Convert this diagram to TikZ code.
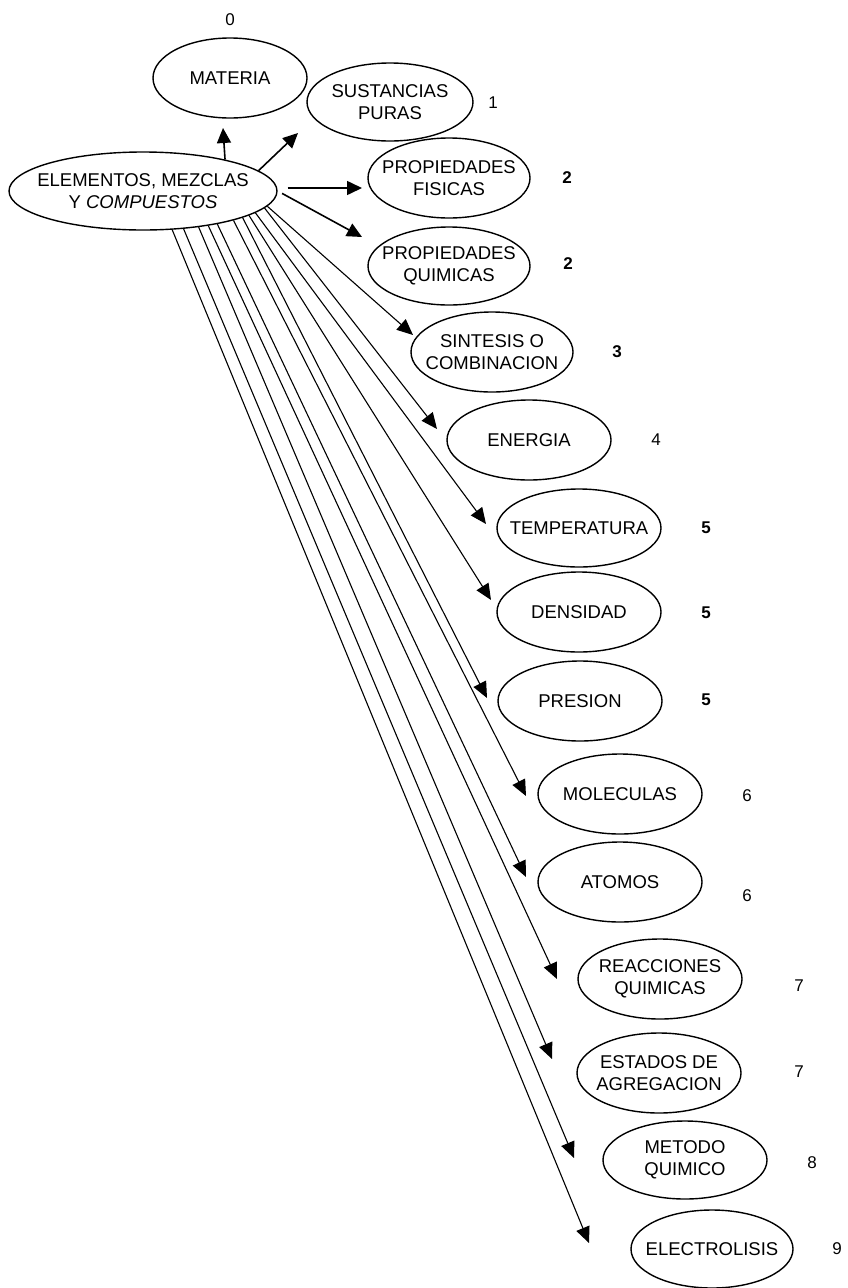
\documentclass[tikz,border=0pt]{standalone}
\usepackage{fontspec}
\setmainfont{Liberation Sans}
\usetikzlibrary{arrows.meta,shapes.geometric}
\begin{document}
\begin{tikzpicture}[x=1pt,y=-1pt,
  concept/.style={ellipse, draw, line width=1.4pt,
    inner xsep=-150pt, inner ysep=-40pt,
    minimum width=164pt, minimum height=80pt,
    align=center, font=\fontsize{18.5}{21.5}\selectfont},
  level/.style={font=\fontsize{17}{20}\selectfont},
  boldlevel/.style={font=\fontsize{17}{20}\selectfont\bfseries},
  link/.style={line width=1.1pt, -{Triangle[length=16pt,width=14pt]}},
  heavylink/.style={line width=1.6pt, -{Triangle[length=15pt,width=14pt]}},
]
\useasboundingbox (0,0) rectangle (847,1288);

% concepts
\node[concept, minimum width=154pt] (mat) at (230,78) {MATERIA};
\node[concept, minimum width=166pt, minimum height=78pt] (sus) at (390,102) {SUSTANCIAS\\PURAS};
\node[concept, minimum width=268pt, minimum height=78pt] (elem) at (143,191) {ELEMENTOS, MEZCLAS\\Y \textit{COMPUESTOS}};
\node[concept, minimum width=162pt] (pfis) at (449,178) {PROPIEDADES\\FISICAS};
\node[concept, minimum width=162pt, minimum height=78pt] (pqui) at (449,266) {PROPIEDADES\\QUIMICAS};
\node[concept, minimum width=162pt] (sint) at (492,352) {SINTESIS O\\COMBINACION};
\node[concept] (ener) at (529,440) {ENERGIA};
\node[concept, minimum height=78pt] (temp) at (579,528) {TEMPERATURA};
\node[concept] (dens) at (579,612) {DENSIDAD};
\node[concept] (pres) at (580,701) {PRESION};
\node[concept] (mol) at (620,794) {MOLECULAS};
\node[concept] (ato) at (620,882) {ATOMOS};
\node[concept] (reac) at (660,979) {REACCIONES\\QUIMICAS};
\node[concept] (est) at (659,1073) {ESTADOS DE\\AGREGACION};
\node[concept, minimum height=78pt] (met) at (685,1160) {METODO\\QUIMICO};
\node[concept, minimum width=162pt, minimum height=78pt] (elec) at (712,1249) {ELECTROLISIS};

% level numbers
\node[level] (n0) at (230,20) {0};
\node[level] (n1) at (493,103) {1};
\node[boldlevel] (n2a) at (567,178) {2};
\node[boldlevel] (n2b) at (568,264) {2};
\node[boldlevel] (n3) at (617,352) {3};
\node[level] (n4) at (656,440) {4};
\node[boldlevel] (n5a) at (706,528) {5};
\node[boldlevel] (n5b) at (706,613) {5};
\node[boldlevel] (n5c) at (706,700) {5};
\node[level] (n6a) at (747,796) {6};
\node[level] (n6b) at (747,896) {6};
\node[level] (n7a) at (799,986) {7};
\node[level] (n7b) at (799,1072) {7};
\node[level] (n8) at (812,1163) {8};
\node[level] (n9) at (837,1249) {9};

% arrow ends
\coordinate (t-mat) at (223,128);
\coordinate (t-sus) at (298,133);
\coordinate (t-pfis) at (362,188);
\coordinate (t-pqui) at (362,237);
\coordinate (t-sint) at (413,335);
\coordinate (t-ener) at (437,429);
\coordinate (t-temp) at (486,524);
\coordinate (t-dens) at (491,600);
\coordinate (t-pres) at (487,698);
\coordinate (t-mol) at (526,796);
\coordinate (t-ato) at (526,877);
\coordinate (t-reac) at (557,979);
\coordinate (t-est) at (552,1059);
\coordinate (t-met) at (574,1158);
\coordinate (t-elec) at (589,1243);

% connectors
\draw[heavylink] (elem.21.4) -- (t-mat);
\draw[heavylink] (elem.10) -- (t-sus);
\draw[heavylink, shorten <=10pt] (elem.east |- t-pfis) -- (t-pfis);
\draw[heavylink, shorten <=5pt] (elem.east) -- (t-pqui);
\draw[link] (elem.-7) -- (t-sint);
\draw[link] (elem.-8.9) -- (t-ener);
\draw[link] (elem.-11.2) -- (t-temp);
\draw[link] (elem.-13.3) -- (t-dens);
\draw[link] (elem.-15.8) -- (t-pres);
\draw[link] (elem.-18.9) -- (t-mol);
\draw[link] (elem.-24.1) -- (t-ato);
\draw[link] (elem.-28.2) -- (t-reac);
\draw[link] (elem.-33.9) -- (t-est);
\draw[link] (elem.-43.4) -- (t-met);
\draw[link] (elem.-53) -- (t-elec);
\end{tikzpicture}
\end{document}
